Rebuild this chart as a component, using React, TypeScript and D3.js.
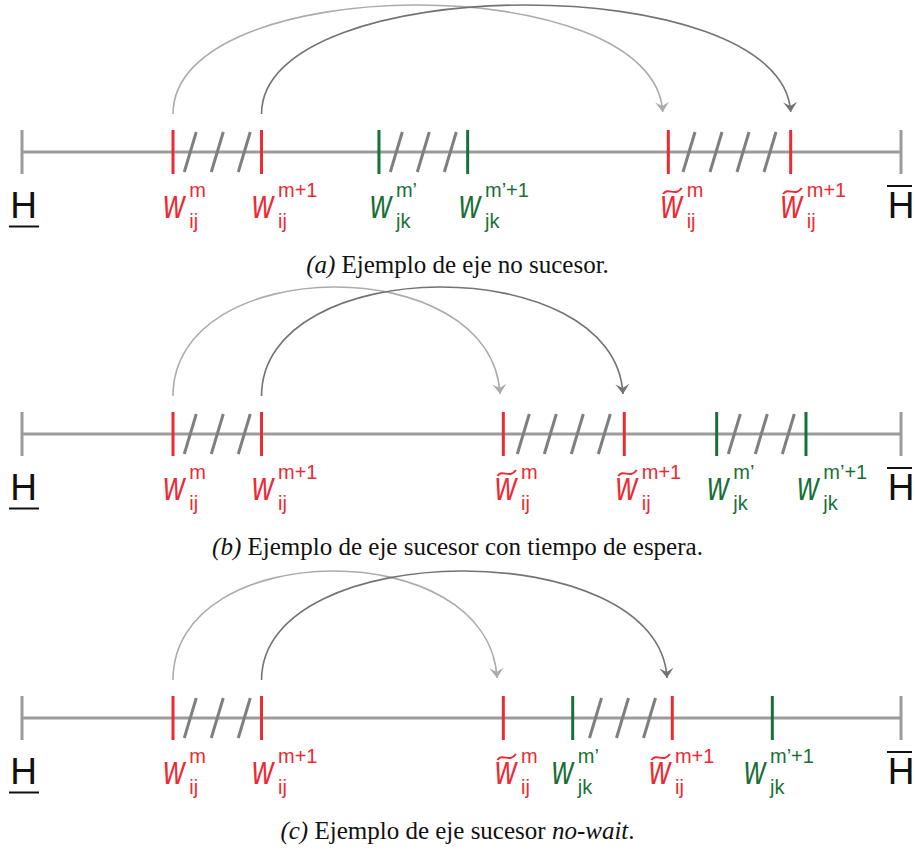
import React from "react";
import * as d3 from "d3";

// Axis domain: H (0) to H-bar (100)
const axisDomain = [0, 100];

// Events per panel: t = tick position, labelAt = where label's "w" starts
const eventsA = [
  { t: 17.18, labelAt: 16.19, kind: "red", tilde: false, sup: "m", sub: "ij" },
  { t: 27.25, labelAt: 26.28, kind: "red", tilde: false, sup: "m+1", sub: "ij" },
  { t: 40.61, labelAt: 39.7, kind: "green", tilde: false, sup: "m’", sub: "jk" },
  { t: 50.7, labelAt: 49.83, kind: "green", tilde: false, sup: "m’+1", sub: "jk" },
  { t: 73.53, labelAt: 72.77, kind: "red", tilde: true, sup: "m", sub: "ij" },
  { t: 87.45, labelAt: 86.43, kind: "red", tilde: true, sup: "m+1", sub: "ij" },
];
const eventsB = [
  { t: 17.18, labelAt: 16.19, kind: "red", tilde: false, sup: "m", sub: "ij" },
  { t: 27.25, labelAt: 26.28, kind: "red", tilde: false, sup: "m+1", sub: "ij" },
  { t: 54.76, labelAt: 53.92, kind: "red", tilde: true, sup: "m", sub: "ij" },
  { t: 68.52, labelAt: 67.66, kind: "red", tilde: true, sup: "m+1", sub: "ij" },
  { t: 79.03, labelAt: 78.08, kind: "green", tilde: false, sup: "m’", sub: "jk" },
  { t: 89.19, labelAt: 88.32, kind: "green", tilde: false, sup: "m’+1", sub: "jk" },
];
const eventsC = [
  { t: 17.18, labelAt: 16.19, kind: "red", tilde: false, sup: "m", sub: "ij" },
  { t: 27.25, labelAt: 26.28, kind: "red", tilde: false, sup: "m+1", sub: "ij" },
  { t: 54.76, labelAt: 53.92, kind: "red", tilde: true, sup: "m", sub: "ij" },
  { t: 62.65, labelAt: 60.38, kind: "green", tilde: false, sup: "m’", sub: "jk" },
  { t: 73.98, labelAt: 71.44, kind: "red", tilde: true, sup: "m+1", sub: "ij" },
  { t: 85.36, labelAt: 82.25, kind: "green", tilde: false, sup: "m’+1", sub: "jk" },
];

// Hatched segments: [from, to, number of hatches]
const hatchesA = [[17.18, 27.25, 3], [40.61, 50.7, 3], [73.53, 87.45, 4]];
const hatchesB = [[17.18, 27.25, 3], [54.76, 68.52, 4], [79.03, 89.19, 3]];
const hatchesC = [[17.18, 27.25, 3], [62.65, 73.98, 3]];

// Arrows: [from, to, shade]
const arrowsA = [[17.18, 72.89, "light"], [27.25, 87.45, "dark"]];
const arrowsB = [[17.18, 54.38, "light"], [27.25, 68.37, "dark"]];
const arrowsC = [[17.18, 54.04, "light"], [27.25, 73.38, "dark"]];

const captionLabels = ["(a)", "(b)", "(c)"];
const captionTexts = [
  [" Ejemplo de eje no sucesor.", ""],
  [" Ejemplo de eje sucesor con tiempo de espera.", ""],
  [" Ejemplo de eje sucesor ", "no-wait", "."],
];

const COLORS: Record<string, string> = {
  red: "#ec2a33",
  green: "#187038",
  axis: "#9b9b9b",
  hatch: "#7f7f7f",
  light: "#ababab",
  dark: "#737373",
};

const W = 915;
const H = 854;
const x = d3.scaleLinear().domain(axisDomain).range([22, 901]);

const panels = [
  { y: 152, events: eventsA, hatches: hatchesA, arrows: arrowsA },
  { y: 434, events: eventsB, hatches: hatchesB, arrows: arrowsB },
  { y: 718, events: eventsC, hatches: hatchesC, arrows: arrowsC },
];

const HATCH_SPACING = 27;
const SANS = "'Liberation Sans', Arial, Helvetica, sans-serif";
const SERIF = "'Liberation Serif', 'Times New Roman', serif";

function arcPath(x0: number, x1: number, ay: number) {
  const p = d3.path();
  const ys = ay - 38;
  const ye = ay - 40;
  const h = 144;
  p.moveTo(x0, ys);
  p.bezierCurveTo(x0, ys - h, x1 - 8, ye - h, x1, ye);
  return p.toString();
}

function Label({ ev, ay }: any) {
  const lx = x(ev.labelAt);
  const col = COLORS[ev.kind];
  const ty = ay + 38.5;
  const tx = lx + 1.5;
  return (
    <g fill={col}>
      {ev.tilde && (
        <path
          d={`M${tx},${ty + 3.5} C${tx + 5},${ty - 4} ${tx + 12},${ty + 7} ${tx + 18.5},${ty - 2.5}`}
          fill="none"
          stroke={col}
          strokeWidth={2}
        />
      )}
      <text
        transform={`translate(${lx - 1},${ay + 66.3}) scale(0.72,1)`}
        fontFamily={SANS}
        fontStyle="italic"
        fontSize={41}
      >
        w
      </text>
      <text x={lx + 25} y={ay + 44.7} fontFamily={SANS} fontSize={20}>
        {ev.sup}
      </text>
      <text x={lx + 25} y={ay + 76} fontFamily={SANS} fontSize={20}>
        {ev.sub}
      </text>
    </g>
  );
}

function Panel({ p, idx }: any) {
  const ay = p.y;
  return (
    <g>
      {/* axis */}
      <line x1={x(axisDomain[0])} x2={x(axisDomain[1])} y1={ay} y2={ay} stroke={COLORS.axis} strokeWidth={3} />
      {axisDomain.map((d, i) => (
        <line key={i} x1={x(d)} x2={x(d)} y1={ay - 22} y2={ay + 22} stroke={COLORS.axis} strokeWidth={3} />
      ))}
      {/* hatches */}
      {p.hatches.map((hs: any, i: number) => {
        const a = x(hs[0]);
        const b = x(hs[1]);
        const n = hs[2];
        const start = a + (b - a - (n - 1) * HATCH_SPACING) / 2;
        return d3.range(n).map((k) => {
          const cx = start + k * HATCH_SPACING;
          return (
            <line
              key={`${i}-${k}`}
              x1={cx - 6}
              y1={ay + 20}
              x2={cx + 6}
              y2={ay - 20}
              stroke={COLORS.hatch}
              strokeWidth={3}
            />
          );
        });
      })}
      {/* event ticks */}
      {p.events.map((ev: any, i: number) => (
        <line key={i} x1={x(ev.t)} x2={x(ev.t)} y1={ay - 22} y2={ay + 22} stroke={COLORS[ev.kind]} strokeWidth={3} />
      ))}
      {/* arrows */}
      {p.arrows.map((a: any, i: number) => (
        <path
          key={i}
          d={arcPath(x(a[0]), x(a[1]), ay)}
          fill="none"
          stroke={COLORS[a[2]]}
          strokeWidth={1.6}
          markerEnd={`url(#head-${a[2]})`}
        />
      ))}
      {/* labels */}
      {p.events.map((ev: any, i: number) => (
        <Label key={i} ev={ev} ay={ay} />
      ))}
      {/* H and H-bar */}
      <text x={x(axisDomain[0]) + 1.5} y={ay + 66.3} textAnchor="middle" fontFamily={SANS} fontSize={37} fill="#111">
        H
      </text>
      <line x1={x(axisDomain[0]) - 13} x2={x(axisDomain[0]) + 17} y1={ay + 74.5} y2={ay + 74.5} stroke="#111" strokeWidth={2} />
      <text x={x(axisDomain[1])} y={ay + 66.3} textAnchor="middle" fontFamily={SANS} fontSize={37} fill="#111">
        H
      </text>
      <line x1={x(axisDomain[1]) - 14} x2={x(axisDomain[1]) + 11} y1={ay + 34} y2={ay + 34} stroke="#111" strokeWidth={2} />
      {/* caption */}
      <text x={W / 2} y={ay + 121} textAnchor="middle" fontFamily={SERIF} fontSize={25} fill="#111">
        <tspan fontStyle="italic">{captionLabels[idx]}</tspan>
        <tspan>{captionTexts[idx][0]}</tspan>
        {captionTexts[idx][1] && <tspan fontStyle="italic">{captionTexts[idx][1]}</tspan>}
        {captionTexts[idx][2] && <tspan>{captionTexts[idx][2]}</tspan>}
      </text>
    </g>
  );
}

export default function App() {
  return (
    <svg width={W} height={H} style={{ position: "absolute", left: 0, top: 0, background: "#fff" }}>
      <defs>
        {["light", "dark"].map((s) => (
          <marker
            key={s}
            id={`head-${s}`}
            markerUnits="userSpaceOnUse"
            viewBox="-12 -8 14 16"
            refX={0}
            refY={0}
            markerWidth={14}
            markerHeight={16}
            orient="auto"
          >
            <path d="M0,0 L-10,-7 L-6,0 L-10,7 Z" fill={COLORS[s]} />
          </marker>
        ))}
      </defs>
      <rect width={W} height={H} fill="#fff" />
      {panels.map((p, i) => (
        <Panel key={i} p={p} idx={i} />
      ))}
    </svg>
  );
}
